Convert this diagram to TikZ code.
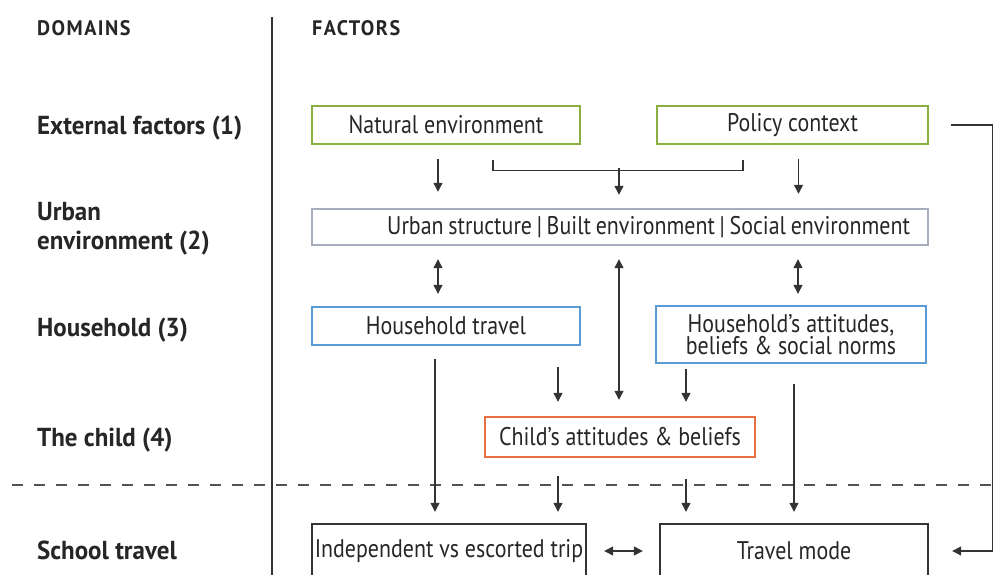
\documentclass[tikz,border=0pt]{standalone}
\usepackage{fontspec}
\setmainfont{PT Sans}[FakeStretch=0.86, BoldFeatures={FakeStretch=0.96}]
\usetikzlibrary{arrows.meta}
\definecolor{txt}{HTML}{262626}
\definecolor{lnk}{HTML}{333333}
\definecolor{extc}{HTML}{8CB040}
\definecolor{urbc}{HTML}{A6AEBE}
\definecolor{hhc}{HTML}{5B9BD5}
\definecolor{chc}{HTML}{E8703F}
\definecolor{stc}{HTML}{333333}
\tikzset{
  box/.style={draw, line width=2.4pt, fill=white, text=txt, inner sep=0pt,
    font=\fontsize{25.5}{22}\selectfont, align=center},
  domlabel/.style={anchor=west, text=txt, inner sep=0pt, align=left,
    font=\fontsize{26}{29}\selectfont\bfseries},
  headlabel/.style={anchor=west, text=txt, inner sep=0pt,
    font=\fontsize{21}{24}\selectfont\bfseries\addfontfeature{LetterSpace=7}},
  arr/.style={draw=lnk, line width=1.3pt, -{Triangle[length=9pt,width=9pt]}},
  darr/.style={draw=lnk, line width=1.3pt, {Triangle[length=9pt,width=9pt]}-{Triangle[length=9pt,width=9pt]}},
  lnkline/.style={draw=lnk, line width=1.3pt}
}
\begin{document}
\begin{tikzpicture}[x=1pt,y=-1pt]
\clip (0,0) rectangle (994,575);
\fill[white] (0,0) rectangle (994,575);

% column headings and domain labels
\node[headlabel] (hdom) at (37,28) {DOMAINS};
\node[headlabel] (hfac) at (312,28) {FACTORS};
\node[domlabel] (d1) at (37,128) {External factors (1)};
\node[domlabel] (d2) at (37,229) {Urban\\environment (2)};
\node[domlabel] (d3) at (37,330) {Household (3)};
\node[domlabel] (d4) at (37,440) {The child (4)};
\node[domlabel] (d5) at (37,550) {School travel};

% divider and separator
\draw[draw=stc, line width=2pt] (272,17) -- (272,575);
\draw[draw=stc!85, line width=2.2pt, dash pattern=on 11pt off 11pt] (12,485) -- (994,485);

% factor boxes
\node[box, draw=extc, minimum width=268pt, minimum height=38pt] (nat) at (446,125) {Natural environment};
\node[box, draw=extc, minimum width=271pt, minimum height=38pt] (pol) at (792.5,125) {Policy context};
\node[box, draw=urbc, minimum height=36pt, inner xsep=18pt, text width=580pt, align=right] (urb) at (620,227) {\spaceskip=3.6pt plus 1pt Urban structure | Built environment | Social environment};
\node[box, draw=hhc, minimum width=270pt, minimum height=57pt] (hha) at (791,334.5) {Household’s attitudes,\\beliefs \& social norms};
\node[box, draw=hhc, minimum width=268pt, minimum height=38pt] (hht) at (446,326) {Household travel};
\node[box, draw=chc, minimum width=270pt, minimum height=40pt] (chi) at (620,437) {Child’s attitudes \& beliefs};
\node[box, draw=stc, minimum width=274pt, minimum height=54pt] (ind) at (449,551) {Independent vs escorted trip};
\node[box, draw=stc, minimum width=268pt, minimum height=54pt] (tm) at (794,551) {Travel mode};

% external factors to urban environment
\draw[arr] ([xshift=-8pt,yshift=-14pt]nat.south) -- ([xshift=-8pt,yshift=16pt]nat.south |- urb.north);
\draw[lnkline] ([xshift=47pt,yshift=-15pt]nat.south) -- ++(0,10) -| ([xshift=-49.5pt,yshift=-15pt]pol.south);
\draw[arr] ([xshift=-1pt,yshift=40pt]urb.north) -- ([xshift=-1pt,yshift=13pt]urb.north);
\draw[arr] ([xshift=6pt,yshift=-14pt]pol.south) -- ([xshift=6pt,yshift=14pt]pol.south |- urb.north);

% urban environment to household and child
\draw[darr] ([xshift=-8pt,yshift=-13pt]hht.north |- urb.south) -- ([xshift=-8pt,yshift=12pt]hht.north);
\draw[darr] ([xshift=-1pt,yshift=-13pt]urb.south) -- ([xshift=-1pt,yshift=16pt]urb.south |- chi.north);
\draw[darr] ([xshift=7pt,yshift=-13pt]hha.north |- urb.south) -- ([xshift=7pt,yshift=11pt]hha.north);

% household to child
\draw[arr] ([xshift=-62pt,yshift=49pt]chi.north) -- ([xshift=-62pt,yshift=14pt]chi.north);
\draw[arr] ([xshift=66pt,yshift=47pt]chi.north) -- ([xshift=66pt,yshift=14pt]chi.north);

% into school travel
\draw[arr] ([xshift=-11pt,yshift=-13pt]hht.south) -- ([xshift=-11pt,yshift=11pt]hht.south |- ind.north);
\draw[arr] ([xshift=-62pt,yshift=-18pt]chi.south) -- ([xshift=-62pt,yshift=11pt]chi.south |- ind.north);
\draw[arr] ([xshift=66pt,yshift=-21pt]chi.south) -- ([xshift=66pt,yshift=11pt]chi.south |- tm.north);
\draw[arr] ([xshift=3pt,yshift=-20pt]hha.south) -- ([yshift=11pt]tm.north);
\draw[darr] ([xshift=17pt]ind.east) -- ([xshift=-16pt]tm.west);
\draw[arr] ([xshift=22pt]pol.east) -- ++(41,0) |- ([xshift=23pt]tm.east);
\end{tikzpicture}
\end{document}
